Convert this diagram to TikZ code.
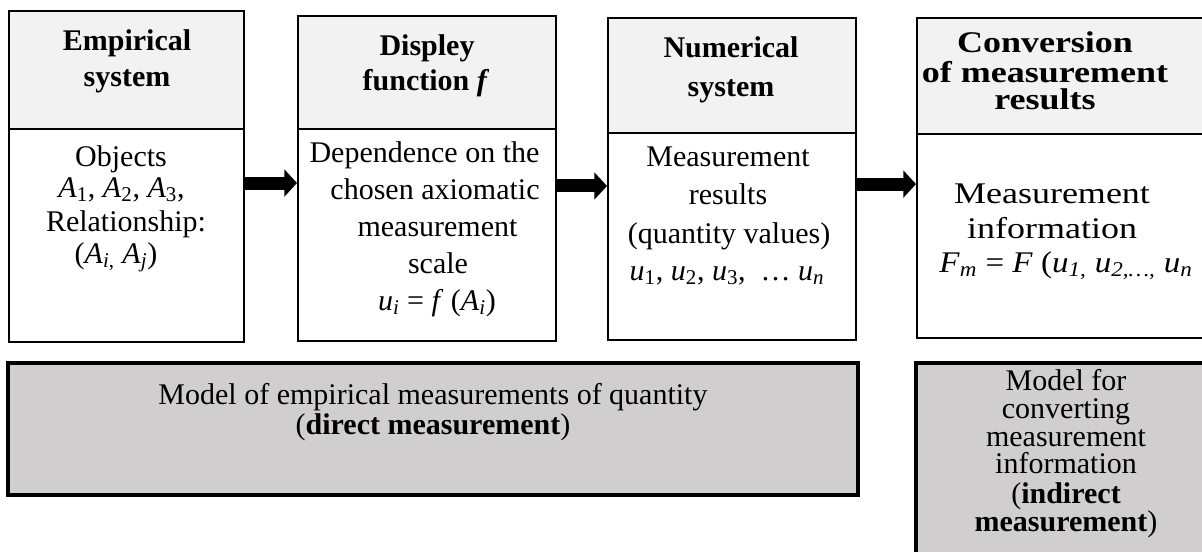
\documentclass[tikz,border=0pt]{standalone}
\usepackage{fontspec}
\setmainfont{Liberation Serif}
\newfontfamily\widefont[FakeStretch=1.2]{Liberation Serif}
\newfontfamily\midfont[FakeStretch=1.1]{Liberation Serif}
\usetikzlibrary{arrows.meta,fit}
\definecolor{hdrgray}{HTML}{F2F2F2}
\definecolor{modelgray}{HTML}{D0CECE}
\begin{document}
\begin{tikzpicture}[x=0.75pt,y=-0.75pt,
  box/.style={draw, line width=1.5pt, inner sep=0pt},
  hdr/.style={box, fill=hdrgray},
  model/.style={draw, line width=2.8pt, fill=modelgray, inner sep=0pt},
  txt/.style={font=\fontsize{22.5}{24}\selectfont, inner sep=0pt, anchor=base},
  htxt/.style={txt, font=\fontsize{22.5}{24}\selectfont\bfseries},
  wtxt/.style={txt, font={\widefont\fontsize{22.5}{24}\selectfont}},
  mtxt/.style={txt, font={\midfont\fontsize{22.5}{24}\selectfont}},
  whtxt/.style={txt, font={\widefont\fontsize{22.5}{24}\selectfont\bfseries}},
  blockarrow/.style={line width=9.75pt, -{Triangle[length=9.5pt,width=20pt]}}
]
\useasboundingbox (0,0) rectangle (1202,551);
\clip (0,0) rectangle (1202,551);

% boxes
\node[box, fit={(9,11) (244,342)}] (b1) {};
\node[hdr, fit={(9,11) (244,129)}] (h1) {};
\node[box, fit={(298,16) (556,341)}] (b2) {};
\node[hdr, fit={(298,16) (556,129)}] (h2) {};
\node[box, fit={(608,18) (856,340)}] (b3) {};
\node[hdr, fit={(608,18) (856,133)}] (h3) {};
\node[box, fit={(917,18) (1220,338)}] (b4) {};
\node[hdr, fit={(917,18) (1220,134)}] (h4) {};
\node[model, fit={(8,363) (858,495)}] (m1) {};
\node[model, fit={(916,363) (1220,580)}] (m2) {};

% arrows
\coordinate (a1s) at ([yshift=-4.9pt]b1.east);
\coordinate (a2s) at ([yshift=-5.6pt]b2.east);
\coordinate (a3s) at ([yshift=-3.8pt]b3.east);
\draw[blockarrow] (a1s) -- (a1s -| b2.west);
\draw[blockarrow] (a2s) -- (a2s -| b3.west);
\draw[blockarrow] (a3s) -- (a3s -| b4.west);

% box 1
\node[htxt] (t1a) at (127,50) {Empirical};
\node[htxt] (t1b) at (127,86) {system};
\node[txt] (t1c) at (121,166) {Objects};
\node[txt] (t1d) at (121.5,197) {\textit{A}\textsubscript{1}, \textit{A}\textsubscript{2}, \textit{A}\textsubscript{3},};
\node[txt] (t1e) at (126,231) {Relationship:};
\node[txt] (t1f) at (116,263) {(\textit{A}\textsubscript{\textit{i},} \textit{A}\textsubscript{\textit{j}})};

% box 2
\node[htxt] (t2a) at (427,55) {Displey};
\node[htxt] (t2b) at (426,90) {function \textit{f}};
\node[txt] (t2c) at (424.5,162) {Dependence on the};
\node[txt] (t2d) at (435,199) {chosen axiomatic};
\node[txt] (t2e) at (437.5,236) {measurement};
\node[txt] (t2f) at (438,273) {scale};
\node[txt] (t2g) at (437,310) {\textit{u}\textsubscript{\textit{i}} = \textit{f} (\textit{A}\textsubscript{\textit{i}})};

% box 3
\node[htxt] (t3a) at (731,57) {Numerical};
\node[htxt] (t3b) at (731,96) {system};
\node[txt] (t3c) at (728,166) {Measurement};
\node[txt] (t3d) at (728,204) {results};
\node[txt] (t3e) at (729,243) {(quantity values)};
\node[txt] (t3f) at (727,280) {\textit{u}\textsubscript{1}, \textit{u}\textsubscript{2}, \textit{u}\textsubscript{3}, \ … \textit{u}\textsubscript{\textit{n}}};

% box 4
\node[whtxt] (t4a) at (1045,52) {Conversion};
\node[whtxt] (t4b) at (1045,82) {of measurement};
\node[whtxt] (t4c) at (1045,109) {results};
\node[wtxt] (t4d) at (1052,203) {Measurement};
\node[wtxt] (t4e) at (1052,238) {information};
\node[mtxt] (t4f) at (1066,272) {\textit{F}\textsubscript{\textit{m}} = \textit{F} (\textit{u}\textsubscript{\textit{1,}} \textit{u}\textsubscript{\textit{2,…,}} \textit{u}\textsubscript{\textit{n}}};

% model boxes
\node[txt] (t5a) at (433,404) {Model of empirical measurements of quantity};
\node[txt] (t5b) at (433,434) {(\textbf{direct measurement})};
\node[txt] (t6a) at (1066,390) {Model for};
\node[txt] (t6b) at (1066,418) {converting};
\node[txt] (t6c) at (1066,446) {measurement};
\node[txt] (t6d) at (1066,473) {information};
\node[txt] (t6e) at (1066,503) {(\textbf{indirect}};
\node[txt] (t6f) at (1066,531) {\textbf{measurement})};
\end{tikzpicture}
\end{document}
